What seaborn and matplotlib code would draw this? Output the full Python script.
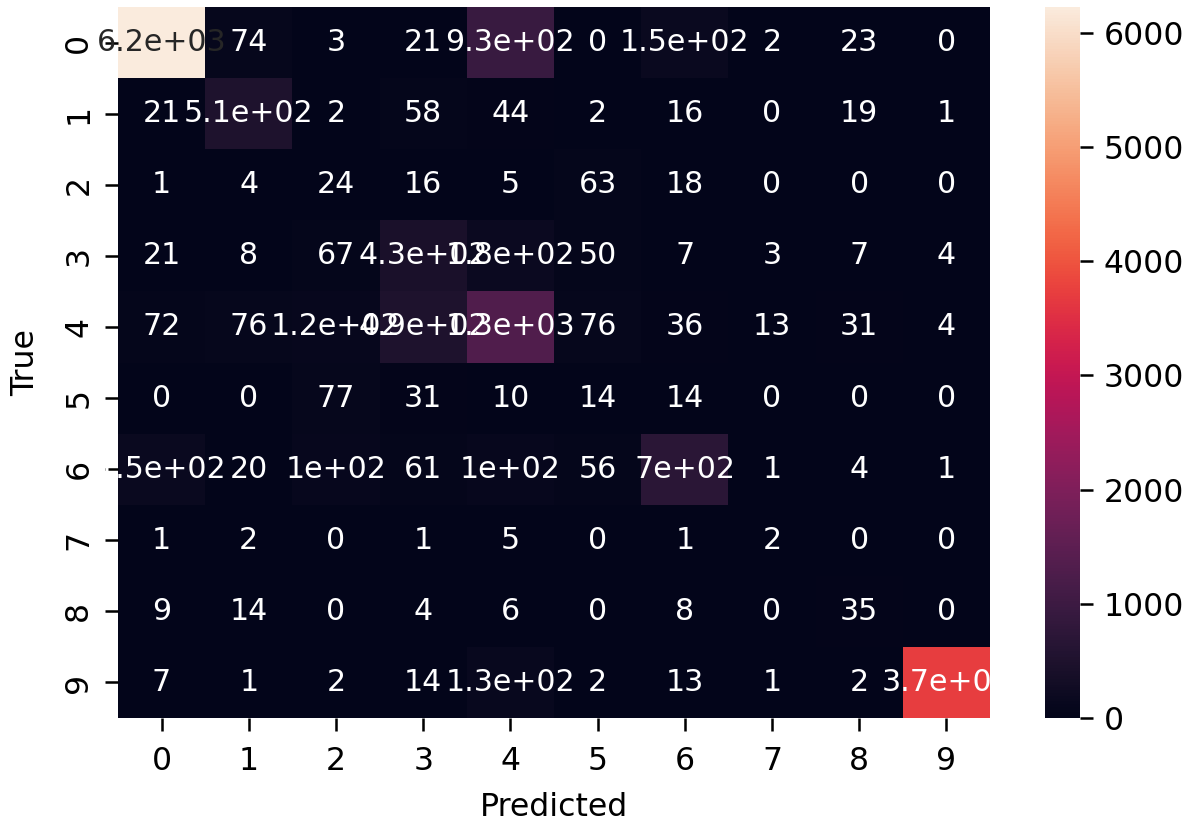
import matplotlib
matplotlib.use("Agg")
import matplotlib.pyplot as plt
import numpy as np
import pandas as pd
import seaborn as sns

# Confusion matrix counts, one list per true class
labels = ["0", "1", "2", "3", "4", "5", "6", "7", "8", "9"]
true_0 = [6225, 74, 3, 21, 930, 0, 150, 2, 23, 0]
true_1 = [21, 510, 2, 58, 44, 2, 16, 0, 19, 1]
true_2 = [1, 4, 24, 16, 5, 63, 18, 0, 0, 0]
true_3 = [21, 8, 67, 430, 180, 50, 7, 3, 7, 4]
true_4 = [72, 76, 120, 490, 1300, 76, 36, 13, 31, 4]
true_5 = [0, 0, 77, 31, 10, 14, 14, 0, 0, 0]
true_6 = [150, 20, 100, 61, 100, 56, 700, 1, 4, 1]
true_7 = [1, 2, 0, 1, 5, 0, 1, 2, 0, 0]
true_8 = [9, 14, 0, 4, 6, 0, 8, 0, 35, 0]
true_9 = [7, 1, 2, 14, 130, 2, 13, 1, 2, 3700]

cm = pd.DataFrame(
    [true_0, true_1, true_2, true_3, true_4, true_5, true_6, true_7, true_8, true_9],
    index=labels, columns=labels,
)

plt.rcParams.update({
    "xtick.major.size": 4,
    "ytick.major.size": 4,
    "xtick.major.pad": 5,
    "ytick.major.pad": 3.5,
})

W, H = 1194, 823
DPI = 227
fig = plt.figure(figsize=(W / DPI, H / DPI), dpi=DPI)

# heatmap and colorbar axes placed in pixel units
def px_axes(x0, y0, x1, y1):
    return fig.add_axes([x0 / W, 1 - y1 / H, (x1 - x0) / W, (y1 - y0) / H])

ax = px_axes(118, 7, 990, 718)
cax = px_axes(1045, 7, 1080, 718)

sns.heatmap(cm, annot=True, annot_kws={"fontsize": 9.5}, ax=ax, cbar_ax=cax)
ax.set_xlabel("Predicted", labelpad=4.5)
ax.set_ylabel("True", labelpad=7)

fig.savefig("out.png", dpi=DPI)
